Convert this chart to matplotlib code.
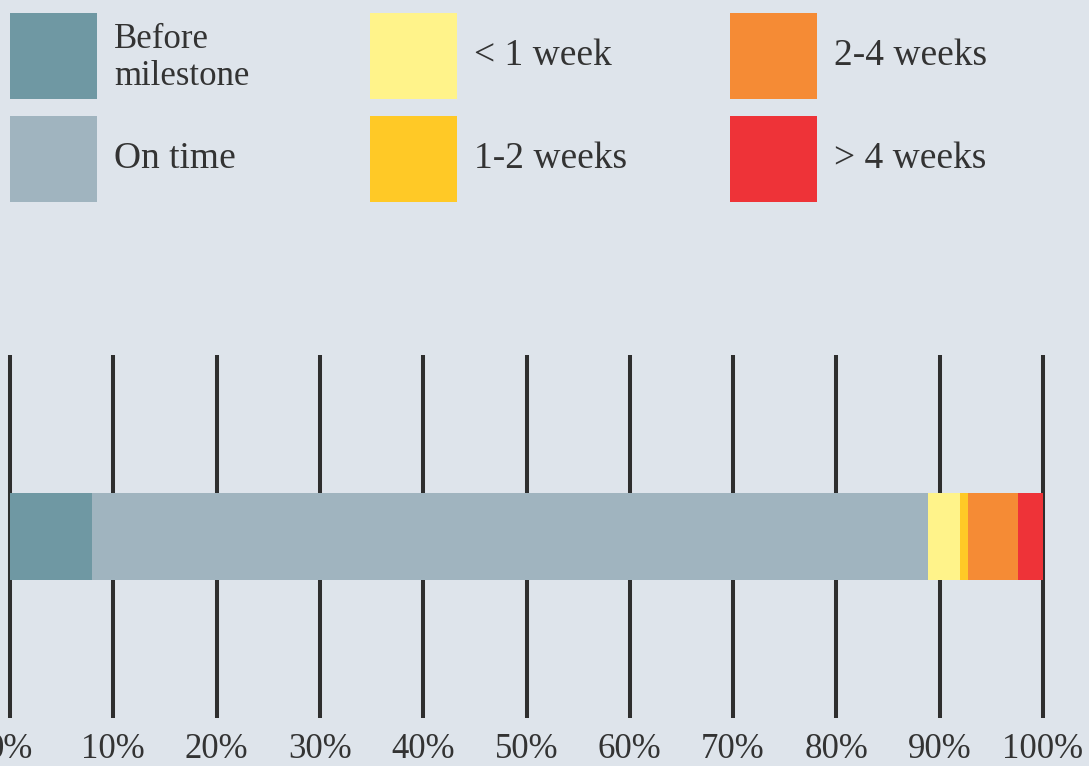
import matplotlib
matplotlib.use("Agg")
import matplotlib.pyplot as plt
from matplotlib.patches import Rectangle

categories = ["Before\nmilestone", "On time", "< 1 week", "1-2 weeks", "2-4 weeks", "> 4 weeks"]
shares = [7.9, 81.0, 3.1, 0.7, 4.9, 2.4]
colors = ["#6f98a3", "#a0b4bf", "#fff38a", "#ffc926", "#f58b35", "#ee3338"]
tick_values = [0, 10, 20, 30, 40, 50, 60, 70, 80, 90, 100]
tick_labels = [f"{v}%" for v in tick_values]

plt.rcParams["font.family"] = ["Liberation Serif", "DejaVu Serif"]
bg = "#dee4eb"
text_color = "#333333"

fig = plt.figure(figsize=(10.89, 7.66), dpi=100)
fig.patch.set_facecolor(bg)

# main bar axes (pixel layout: 0% at x=10, 100% at x=1043, lines y 355..718)
W, H = 1089, 766
ax = fig.add_axes([10 / W, 1 - 718 / H, 1033 / W, 363 / H])
ax.set_facecolor("none")
ax.set_xlim(0, 100)
ax.set_ylim(-0.5, 0.5)

ax.vlines(tick_values, -0.5, 0.5, colors="#2e2e2e", linewidth=2.9, zorder=1, clip_on=False)

left = 0
for share, color in zip(shares, colors):
    ax.barh(0, share, left=left, height=0.237, color=color, zorder=2)
    left += share

for s in ax.spines.values():
    s.set_visible(False)
ax.set_yticks([])
ax.set_xticks(tick_values)
ax.set_xticklabels(tick_labels)
ax.tick_params(axis="x", length=0, pad=11, labelsize=25, labelcolor=text_color)

# legend drawn in pixel space
lax = fig.add_axes([0, 0, 1, 1])
lax.set_xlim(0, W)
lax.set_ylim(H, 0)
lax.axis("off")

col_x = [10, 370, 730]
row_y = [13, 116]
sw, sh = 87, 86
for i, (label, color) in enumerate(zip(categories, colors)):
    cx = col_x[i // 2]
    ry = row_y[i % 2]
    lax.add_patch(Rectangle((cx, ry), sw, sh, facecolor=color, edgecolor="none"))
    two_lines = "\n" in label
    lax.text(cx + sw + 17, ry + sh / 2 + (2 if two_lines else 0), label,
             fontsize=25 if two_lines else 27,
             color=text_color, va="center", ha="left", linespacing=1.15)

fig.savefig("out.png", dpi=100, facecolor=fig.get_facecolor())
